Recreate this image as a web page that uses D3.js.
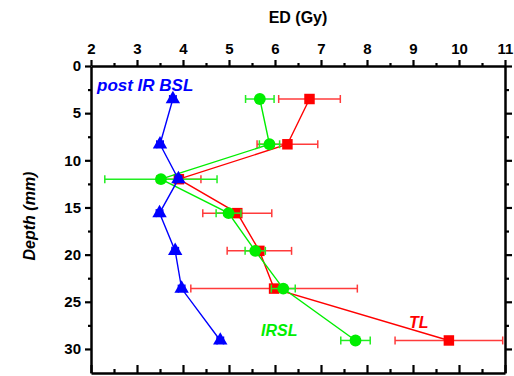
<!DOCTYPE html>
<html><head><meta charset="utf-8">
<script src="https://cdn.jsdelivr.net/npm/d3@7"></script>
<style>body{margin:0;background:#fff}svg{display:block;font-family:Arial,"Liberation Sans",sans-serif}</style>
</head><body><svg id="c" width="514" height="376"></svg>
<script>
const depth = [3.5, 8.3, 12, 15.6, 19.6, 23.6, 29.1];
const tlED = [6.75, 6.27, 3.91, 5.18, 5.66, 5.98, 9.78];
const tlErr = [0.67, 0.66, 0.48, 0.75, 0.70, 1.81, 1.17];
const irslED = [5.67, 5.88, 3.52, 4.99, 5.57, 6.18, 7.75];
const irslErr = [0.31, 0.22, 1.22, 0.27, 0.22, 0.26, 0.32];
const bslED = [3.78, 3.5, 3.9, 3.49, 3.83, 3.97, 4.81];
const bslErr = [0.07, 0.07, 0.07, 0.07, 0.07, 0.07, 0.07];
const xTicks = [2, 3, 4, 5, 6, 7, 8, 9, 10, 11];
const yTicks = [0, 5, 10, 15, 20, 25, 30];

const svg = d3.select("#c");
const L = 91, R = 505, T = 66, B = 373;
const x = d3.scaleLinear().domain([2, 11]).range([L, R]);
const y = d3.scaleLinear().domain([0, 32.55]).range([T, B]);
const minorX = d3.range(2.5, 11, 1);
const minorY = d3.range(2.5, 32.5, 5);

const axStyle = g => { g.select(".domain").attr("stroke", "#000").attr("stroke-width", 2.5);
  g.selectAll(".tick line").attr("stroke", "#000").attr("stroke-width", 2.2);
  g.selectAll("text").attr("font-weight", "bold").attr("font-size", 15).attr("fill", "#000"); };

svg.append("g").attr("transform", `translate(0,${T})`)
  .call(d3.axisTop(x).tickValues(xTicks).tickSize(6).tickPadding(6).tickSizeOuter(0)).call(axStyle);
svg.append("g").attr("transform", `translate(0,${T})`)
  .call(d3.axisTop(x).tickValues(minorX).tickSize(3).tickFormat("")).call(axStyle)
  .select(".domain").remove();
svg.append("g").attr("transform", `translate(${L},0)`)
  .call(d3.axisLeft(y).tickValues(yTicks).tickSize(6).tickPadding(4).tickSizeOuter(0)).call(axStyle);
svg.append("g").attr("transform", `translate(${L},0)`)
  .call(d3.axisLeft(y).tickValues(minorY).tickSize(3).tickFormat("")).call(axStyle)
  .select(".domain").remove();
svg.append("g").attr("transform", `translate(${R},0)`)
  .call(d3.axisRight(y).tickValues(yTicks).tickSize(7).tickFormat("").tickSizeOuter(0)).call(axStyle);
svg.append("g").attr("transform", `translate(${R},0)`)
  .call(d3.axisRight(y).tickValues(minorY).tickSize(4).tickFormat("")).call(axStyle)
  .select(".domain").remove();
svg.append("g").attr("transform", `translate(0,${B})`)
  .call(d3.axisBottom(x).tickValues(xTicks).tickSize(-8).tickFormat("").tickSizeOuter(0)).call(axStyle);
svg.append("g").attr("transform", `translate(0,${B})`)
  .call(d3.axisBottom(x).tickValues(minorX).tickSize(-4).tickFormat("")).call(axStyle)
  .select(".domain").remove();

svg.append("text").attr("x", 298).attr("y", 23).attr("text-anchor", "middle")
  .attr("font-weight", "bold").attr("font-size", 16).text("ED (Gy)");
svg.append("text").attr("transform", "translate(35,216) rotate(-90)").attr("text-anchor", "middle")
  .attr("font-weight", "bold").attr("font-style", "italic").attr("font-size", 16).text("Depth (mm)");

function series(vals, errs, color, errColor, marker) {
  const g = svg.append("g");
  const data = depth.map((d, i) => ({d, v: vals[i], e: errs[i]}));
  g.append("path").datum(data).attr("fill", "none").attr("stroke", color).attr("stroke-width", 1.4)
    .attr("d", d3.line().x(p => x(p.v)).y(p => y(p.d)));
  const eb = g.selectAll(".eb").data(data).enter().append("g");
  eb.append("line").attr("x1", p => x(p.v - p.e)).attr("x2", p => x(p.v + p.e))
    .attr("y1", p => y(p.d)).attr("y2", p => y(p.d)).attr("stroke", errColor).attr("stroke-width", 1.5);
  [-1, 1].forEach(s => eb.append("line").attr("x1", p => x(p.v + s * p.e)).attr("x2", p => x(p.v + s * p.e))
    .attr("y1", p => y(p.d) - 4).attr("y2", p => y(p.d) + 4).attr("stroke", errColor).attr("stroke-width", 1.5));
  g.selectAll(".m").data(data).enter().append("path")
    .attr("transform", p => `translate(${x(p.v)},${y(p.d)})`)
    .attr("d", d3.symbol().type(marker.type).size(marker.size)).attr("fill", color);
}
series(tlED, tlErr, "#ff0000", "#ff3b3b", {type: d3.symbolSquare, size: 110});
series(irslED, irslErr, "#00ee00", "#22ee22", {type: d3.symbolCircle, size: 110});
series(bslED, bslErr, "#0000ff", "#0000ff", {type: d3.symbolTriangle, size: 90});

svg.append("text").attr("x", 97).attr("y", 91).attr("fill", "#0000ff").attr("font-weight", "bold")
  .attr("font-style", "italic").attr("font-size", 17).text("post IR BSL");
svg.append("text").attr("x", 261).attr("y", 336).attr("fill", "#00ee00").attr("font-weight", "bold")
  .attr("font-style", "italic").attr("font-size", 16).text("IRSL");
svg.append("text").attr("x", 409).attr("y", 328).attr("fill", "#ff0000").attr("font-weight", "bold")
  .attr("font-style", "italic").attr("font-size", 16).text("TL");
</script></body></html>
